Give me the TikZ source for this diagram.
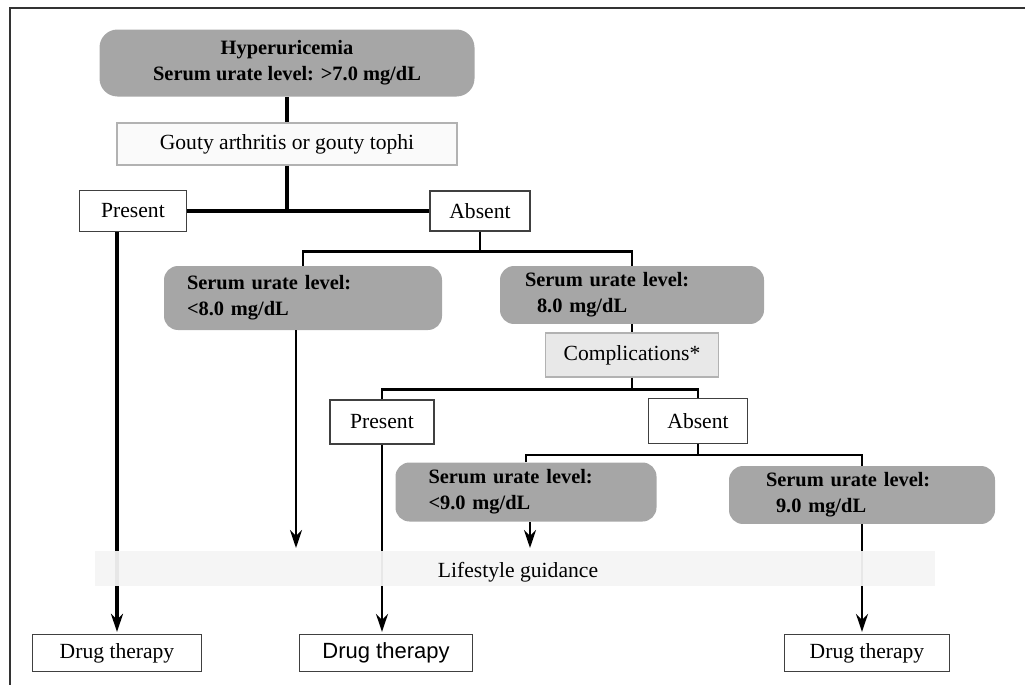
\documentclass[tikz,border=0pt]{standalone}
\usepackage{fontspec}
\setmainfont{Liberation Serif}
\newfontfamily\arialfont{Liberation Sans}
\usetikzlibrary{arrows.meta}
\pgfdeclarelayer{front}
\pgfsetlayers{main,front}

\begin{document}
\begin{tikzpicture}[
    x=0.5pt, y=-0.5pt,
    urate/.style={rectangle, rounded corners=7pt, fill=gray!70, align=left, font=\fontsize{10.2}{13}\selectfont\bfseries},
    choice/.style={rectangle, draw=black!75, line width=0.6pt, font=\fontsize{10.8}{13}\selectfont},
    pale/.style={rectangle, draw=gray!60, line width=0.6pt, font=\fontsize{10.8}{13}\selectfont},
    conn/.style={line width=1.2pt},
    arr/.style={->, >={Stealth[length=9pt, width=6pt]}, line width=1.2pt, shorten >=1pt}
]
\useasboundingbox (0,0) rectangle (1025,685);
% frame
\draw[black!80, line width=0.9pt] (1025,8) -- (10,8) -- (10,685);

% Boxes
\node[urate, align=center, rounded corners=9pt, minimum width=187.5pt, minimum height=33.5pt] (hyper) at (287,63) {Hyperuricemia\\Serum urate level: >7.0 mg/dL};
\node[pale, fill=gray!4, minimum width=170pt, minimum height=21pt] (gouty) at (287,144) {Gouty arthritis or gouty tophi};
\node[choice, minimum width=53.5pt, minimum height=20.5pt] (pres1) at (133,211) {Present};
\node[choice, minimum width=50pt, minimum height=20pt] (abs1) at (480,211) {Absent};

\node[urate, text width=116pt, inner xsep=11.5pt, minimum height=32pt] (lt8) at (303,298) {Serum urate level:\\<8.0 mg/dL};
\node[urate, text width=107pt, inner xsep=12.5pt, minimum height=28.5pt] (ge8) at (632,295) {Serum urate level:\\\hspace*{6pt}8.0 mg/dL};
\node[pale, fill=gray!18, minimum width=86.5pt, minimum height=22pt] (compl) at (632,355) {Complications*};

\node[choice, minimum width=52pt, minimum height=22pt] (pres2) at (382,422) {Present};
\node[choice, minimum width=49.5pt, minimum height=22.5pt] (abs2) at (698,421) {Absent};

\node[urate, text width=97.5pt, inner xsep=16.5pt, minimum height=29.5pt] (lt9) at (526,492) {Serum urate level:\\<9.0 mg/dL};
\node[urate, text width=96pt, inner xsep=18.5pt, minimum height=28pt] (ge9) at (862,495) {Serum urate level:\\\hspace*{5pt}9.0 mg/dL};

\node[choice, minimum width=84.5pt, minimum height=18.5pt] (drug1) at (117,653) {Drug therapy};
\node[choice, font=\arialfont\fontsize{11}{13}\selectfont, minimum width=86.5pt, minimum height=18.5pt] (drug2) at (386,653) {Drug therapy};
\node[choice, minimum width=82.5pt, minimum height=18.5pt] (drug3) at (867,653) {Drug therapy};

% faded strip
\begin{pgfonlayer}{front}
\fill[gray!9, fill opacity=0.95] (95,551) rectangle (935,586);
\node[font=\fontsize{10.8}{13}\selectfont] (life) at (518,572) {Lifestyle guidance};
\end{pgfonlayer}

% Connectors
\draw[conn, line width=1.7pt] (hyper) -- (gouty);
\draw[conn, line width=1.7pt] (gouty.south) -- (gouty.south |- pres1.east);
\draw[conn, line width=1.7pt] (pres1.east) -- (abs1.west);
\draw[conn] (abs1.south) -- ++(0,20) coordinate (j1);
\draw[conn] (lt8.north) |- (j1) -| (ge8.north);
\draw[conn] (ge8) -- (compl);
\draw[conn] (compl.south) -- ++(0,12) coordinate (j2);
\draw[conn] (pres2.north) |- (j2) -| (abs2.north);
\draw[conn] (abs2.south) -- ++(0,11) coordinate (j3);
\draw[conn] (lt9.north) |- (j3) -| (ge9.north);

% Arrows
\coordinate (end8) at (296,550);
\coordinate (lgtop) at (530,550);
\draw[arr, line width=1.7pt] (pres1.south -| drug1.north) -- (drug1.north);
\draw[arr] (lt8.south -| end8) -- (end8);
\draw[arr] (pres2.south) -- (pres2.south |- drug2.north);
\draw[arr] (lt9.south -| lgtop) -- (lgtop);
\draw[arr] (ge9.south) -- (ge9.south |- drug3.north);

\end{tikzpicture}
\end{document}
